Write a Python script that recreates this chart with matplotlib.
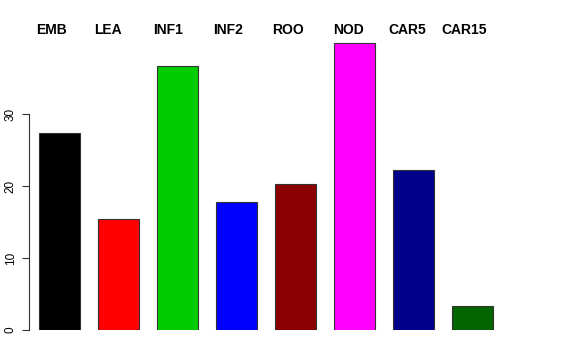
import matplotlib
matplotlib.use("Agg")
import matplotlib.pyplot as plt

groups = ["EMB", "LEA", "INF1", "INF2", "ROO", "NOD", "CAR5", "CAR15"]
values = [27.4, 15.4, 36.7, 17.8, 20.3, 39.9, 22.2, 3.3]
colors = ["#000000", "#FF0000", "#00CD00", "#0000FF", "#8B0000", "#FF00FF", "#00008B", "#006400"]
label_x_px = [51.5, 108, 168, 228, 288, 348, 407.5, 464]  # label centres in pixels
yticks = [0, 10, 20, 30]

W, H = 576, 360
plt.rcParams["font.family"] = ["Liberation Sans", "DejaVu Sans"]
fig = plt.figure(figsize=(W / 100, H / 100), dpi=100)

# axes placed in pixels: y=0 at 330px, 7.2 px per unit; bars every 59px
left, right, bottom, top = 30, 522, 30, 318
ax = fig.add_axes([left / W, bottom / H, (right - left) / W, (top - bottom) / H])

xs = list(range(len(groups)))
ax.bar(xs, values, width=41 / 59, color=colors, edgecolor="#333333", linewidth=0.8)
ax.set_xlim((left - 59.5) / 59, (right - 59.5) / 59)
ax.set_ylim(0, (top - bottom) / 7.2)

for s in ["top", "right", "bottom"]:
    ax.spines[s].set_visible(False)
ax.spines["left"].set_bounds(0, 30)
ax.spines["left"].set_color("#333333")
ax.spines["left"].set_position(("outward", 1))
ax.set_xticks([])
ax.set_yticks(yticks)
ax.tick_params(axis="y", length=5, width=0.8, color="#333333", pad=3.5, labelsize=8.5)
for lab in ax.get_yticklabels():
    lab.set_rotation(90)
    lab.set_va("center")

for g, px in zip(groups, label_x_px):
    fig.text(px / W, (H - 30) / H, g, ha="center", va="center",
             fontsize=10, fontweight="bold")

fig.savefig("out.png", dpi=100)
